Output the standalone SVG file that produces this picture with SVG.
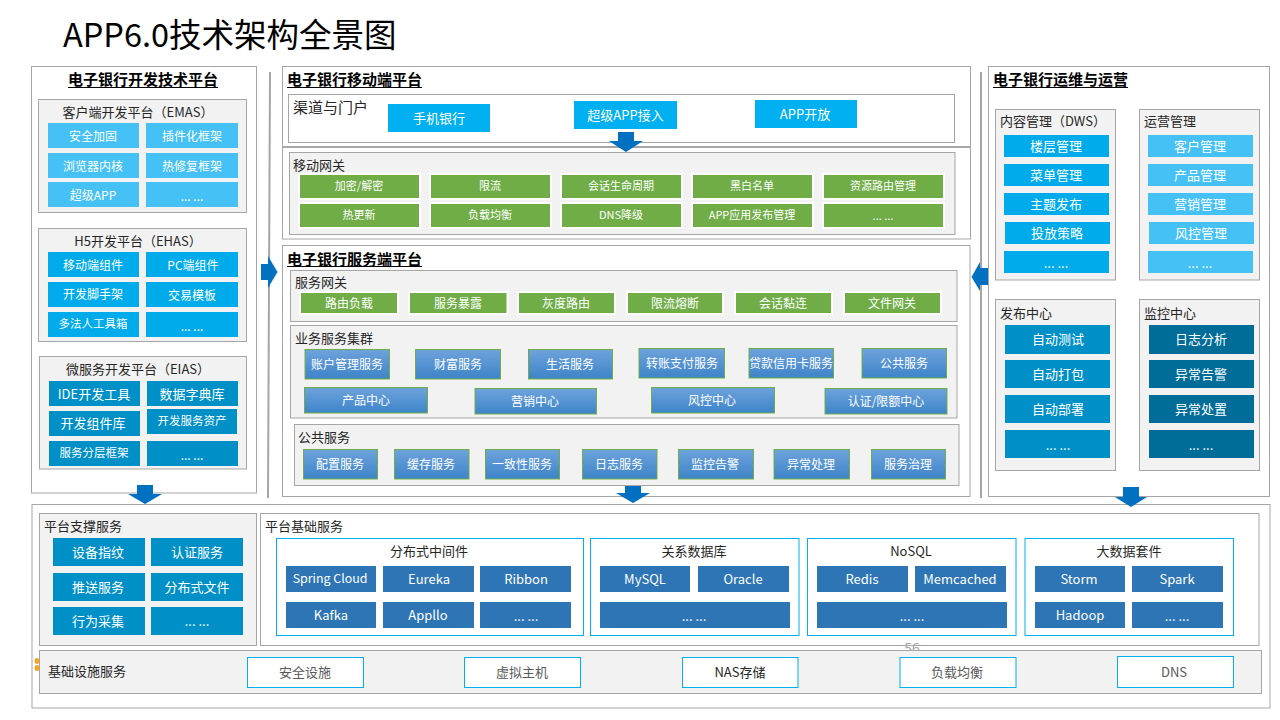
<svg xmlns="http://www.w3.org/2000/svg" width="1280" height="720" viewBox="0 0 1280 720">
<style>
text{font-family:"Noto Sans CJK SC","Noto Sans",sans-serif;font-size:13px;dominant-baseline:central;transform:translateY(-1px)}
.panel{fill:#fff;stroke:#a6a6a6;stroke-width:1}
.box{fill:#f2f2f2;stroke:#a6a6a6;stroke-width:1}
.wbox{fill:#fff;stroke:#a6a6a6;stroke-width:1}
.group{fill:#fff;stroke:#00b0f0;stroke-width:1}
.infra{fill:#fff;stroke:#00b0f0;stroke-width:1}
.title{font-size:15px;font-weight:700;fill:#000}
.ul{stroke:#000;stroke-width:1}
.lab{fill:#262626;font-size:13px}
.c{text-anchor:middle;fill:#fff}
.d{text-anchor:middle;fill:#262626}
.g{text-anchor:middle;fill:#595959}
.s11{font-size:11px}
.s12{font-size:12px}
.a{fill:#45c1f6}.b{fill:#00abec}.e{fill:#0090c8}.f{fill:#006c98}.h{fill:#00b0f0}
.gr{fill:#70ad47;stroke:#fff;stroke-width:4;paint-order:stroke fill}
.bl{fill:url(#blue);stroke:#70ad47;stroke-width:1}
.m{fill:#2e75b6}
.arrow{fill:#0070c0}
.rail{stroke:#a6a6a6;stroke-width:2;fill:none}
</style>
<defs>
<linearGradient id="blue" x1="0" y1="0" x2="0" y2="1"><stop offset="0" stop-color="#6ea3dc"/><stop offset="1" stop-color="#3d84c8"/></linearGradient>
</defs>
<rect width="1280" height="720" fill="#fff"/>
<text x="63" y="33.5" style="font-size:32.5px" fill="#000">APP6.0技术架构全景图</text>

<g id="bottom-platform">
<rect class="panel" x="32" y="504.5" width="1238" height="203.5"/>
<rect class="box" x="39.5" y="513.5" width="217" height="132"/>
<text class="lab" x="44" y="526">平台支撑服务</text>
<rect class="e" x="53" y="538" width="92" height="28"/><text class="c" x="98" y="552">设备指纹</text>
<rect class="e" x="151" y="538" width="92" height="28"/><text class="c" x="197" y="552">认证服务</text>
<rect class="e" x="53" y="573" width="92" height="28"/><text class="c" x="98" y="587">推送服务</text>
<rect class="e" x="151" y="573" width="92" height="28"/><text class="c" x="197" y="587">分布式文件</text>
<rect class="e" x="53" y="607" width="92" height="28"/><text class="c" x="98" y="621">行为采集</text>
<rect class="e" x="151" y="607" width="92" height="28"/><text class="c" x="197" y="621">... ...</text>
<rect class="wbox" x="260.5" y="513.5" width="998.5" height="132"/>
<text class="lab" x="265" y="526">平台基础服务</text>
</g>
<g id="middleware">
<rect class="group" x="276.5" y="538.5" width="307" height="97"/>
<text class="d" x="429" y="551">分布式中间件</text>
<rect class="m" x="286" y="566" width="90" height="26"/><text class="c" x="330" y="579" style="font-size:12.4px">Spring Cloud</text>
<rect class="m" x="383" y="566" width="91" height="26"/><text class="c" x="429" y="579">Eureka</text>
<rect class="m" x="480" y="566" width="91" height="26"/><text class="c" x="526" y="579">Ribbon</text>
<rect class="m" x="286" y="602" width="90" height="26"/><text class="c" x="331" y="615">Kafka</text>
<rect class="m" x="383" y="602" width="91" height="26"/><text class="c" x="428" y="615">Appllo</text>
<rect class="m" x="480" y="602" width="91" height="26"/><text class="c" x="526" y="616">... ...</text>
</g>
<g id="rdb">
<rect class="group" x="590.5" y="538.5" width="208.5" height="97"/>
<text class="d" x="694" y="551">关系数据库</text>
<rect class="m" x="600" y="566" width="90" height="26"/><text class="c" x="645" y="579">MySQL</text>
<rect class="m" x="698" y="566" width="91" height="26"/><text class="c" x="743" y="579">Oracle</text>
<rect class="m" x="600" y="602" width="190" height="26"/><text class="c" x="694" y="616">... ...</text>
</g>
<g id="nosql">
<rect class="group" x="807.5" y="538.5" width="208.5" height="97"/>
<text class="d" x="911" y="551">NoSQL</text>
<rect class="m" x="817" y="566" width="91" height="26"/><text class="c" x="862" y="579">Redis</text>
<rect class="m" x="915" y="566" width="91" height="26"/><text class="c" x="960" y="579">Memcached</text>
<rect class="m" x="817" y="602" width="190" height="26"/><text class="c" x="912" y="616">... ...</text>
</g>
<g id="bigdata">
<rect class="group" x="1025" y="538.5" width="208.5" height="97"/>
<text class="d" x="1129" y="551">大数据套件</text>
<rect class="m" x="1035" y="566" width="90" height="26"/><text class="c" x="1079" y="579">Storm</text>
<rect class="m" x="1132" y="566" width="91" height="26"/><text class="c" x="1177" y="579">Spark</text>
<rect class="m" x="1035" y="602" width="90" height="26"/><text class="c" x="1080" y="615">Hadoop</text>
<rect class="m" x="1132" y="602" width="91" height="26"/><text class="c" x="1177" y="616">... ...</text>
</g>
<text x="912" y="648" text-anchor="middle" style="font-size:14px;fill:#a6a6a6">56</text>
<g id="infrastructure">
<ellipse cx="37" cy="661" rx="2.5" ry="3" fill="#f5a623"/><ellipse cx="37" cy="668" rx="2.5" ry="3" fill="#f5a623"/>
<rect class="box" x="39.5" y="650.5" width="1222" height="43"/>
<text class="lab" x="48" y="671">基础设施服务</text>
<rect class="infra" x="247.5" y="657.5" width="116" height="30"/><text class="g" x="305" y="672">安全设施</text>
<rect class="infra" x="464.5" y="657.5" width="116" height="30"/><text class="g" x="522" y="672">虚拟主机</text>
<rect class="infra" x="682.5" y="657.5" width="115.5" height="30"/><text class="d" x="740" y="672">NAS存储</text>
<rect class="infra" x="900" y="657.5" width="116" height="30"/><text class="g" x="957" y="672">负载均衡</text>
<rect class="infra" x="1117.5" y="656.5" width="116" height="31"/><text class="g" x="1174" y="672">DNS</text>
</g>

<g id="dev-platform">
<rect class="panel" x="31.5" y="66.5" width="225" height="426.5"/>
<text class="title" x="68" y="79">电子银行开发技术平台</text><line class="ul" x1="68" y1="87.5" x2="218" y2="87.5"/>
</g>
<g id="emas">
<rect class="box" x="38.5" y="99.5" width="208" height="113"/>
<text class="d" x="138" y="112">客户端开发平台（EMAS）</text>
<rect class="a" x="48" y="123" width="91" height="25"/><text class="c s12" x="93" y="136">安全加固</text>
<rect class="a" x="146" y="123" width="92" height="25"/><text class="c s12" x="192" y="136">插件化框架</text>
<rect class="a" x="48" y="153" width="91" height="25"/><text class="c s12" x="93" y="166">浏览器内核</text>
<rect class="a" x="146" y="153" width="92" height="25"/><text class="c s12" x="192" y="166">热修复框架</text>
<rect class="a" x="48" y="182" width="91" height="25"/><text class="c s12" x="93" y="195">超级APP</text>
<rect class="a" x="146" y="182" width="92" height="25"/><text class="c s12" x="192" y="196">... ...</text>
</g>
<g id="ehas">
<rect class="box" x="38.5" y="228.5" width="208" height="113"/>
<text class="d" x="138" y="241">H5开发平台（EHAS）</text>
<rect class="b" x="48" y="252" width="91" height="25"/><text class="c s12" x="93" y="265">移动端组件</text>
<rect class="b" x="146" y="252" width="92" height="25"/><text class="c s12" x="193" y="265">PC端组件</text>
<rect class="b" x="48" y="282" width="91" height="25"/><text class="c s12" x="93" y="294">开发脚手架</text>
<rect class="b" x="146" y="282" width="92" height="25"/><text class="c s12" x="192" y="295">交易模板</text>
<rect class="b" x="48" y="312" width="91" height="25"/><text class="c" x="93" y="324" style="font-size:11.5px">多法人工具箱</text>
<rect class="b" x="146" y="312" width="92" height="25"/><text class="c s12" x="192" y="326">... ...</text>
</g>
<g id="eias">
<rect class="box" x="39.5" y="356.5" width="207" height="112.5"/>
<text class="d" x="138" y="369">微服务开发平台（EIAS）</text>
<rect class="e" x="49" y="381" width="91" height="25"/><text class="c" x="94" y="394">IDE开发工具</text>
<rect class="e" x="147" y="381" width="91" height="25"/><text class="c" x="192" y="394">数据字典库</text>
<rect class="e" x="49" y="411" width="91" height="25"/><text class="c" x="93" y="423">开发组件库</text>
<rect class="e" x="147" y="409" width="90" height="25"/><text class="c" x="192" y="421" style="font-size:11.5px">开发服务资产</text>
<rect class="e" x="49" y="441" width="91" height="25"/><text class="c" x="94" y="453" style="font-size:11.5px">服务分层框架</text>
<rect class="e" x="147" y="441" width="91" height="25"/><text class="c s12" x="192" y="455">... ...</text>
</g>

<g id="mobile-platform">
<rect class="panel" x="282.5" y="66.5" width="688" height="172.5"/>
<text class="title" x="287" y="79">电子银行移动端平台</text><line class="ul" x1="287" y1="87.5" x2="422" y2="87.5"/>
<line x1="282" y1="147" x2="970" y2="147" stroke="#a6a6a6" stroke-width="2"/>
</g>
<g id="channels">
<rect class="wbox" x="288.5" y="94.5" width="666" height="48"/>
<text class="lab" x="293" y="107" style="font-size:15px">渠道与门户</text>
<rect class="h" x="388" y="104" width="102" height="28"/><text class="c" x="439" y="118">手机银行</text>
<rect class="h" x="574" y="101" width="103" height="28"/><text class="c" x="625.5" y="115">超级APP接入</text>
<rect class="h" x="755" y="100" width="102" height="28"/><text class="c" x="805" y="114">APP开放</text>
</g>
<g id="mobile-gateway">
<rect class="box" x="289.5" y="152.5" width="665.5" height="82"/>
<text class="lab" x="293" y="165">移动网关</text>
<rect class="gr" x="300" y="175" width="119" height="23"/><text class="c s11" x="359" y="186">加密/解密</text>
<rect class="gr" x="431" y="175" width="119" height="23"/><text class="c s11" x="490" y="186">限流</text>
<rect class="gr" x="562" y="175" width="119" height="23"/><text class="c s11" x="621" y="186">会话生命周期</text>
<rect class="gr" x="693" y="175" width="119" height="23"/><text class="c s11" x="752" y="186">黑白名单</text>
<rect class="gr" x="824" y="175" width="119" height="23"/><text class="c s11" x="883" y="186">资源路由管理</text>
<rect class="gr" x="300" y="204" width="119" height="23"/><text class="c s11" x="359" y="215">热更新</text>
<rect class="gr" x="431" y="204" width="119" height="23"/><text class="c s11" x="490" y="215">负载均衡</text>
<rect class="gr" x="562" y="204" width="119" height="23"/><text class="c s11" x="621" y="215">DNS降级</text>
<rect class="gr" x="693" y="204" width="119" height="23"/><text class="c s11" x="752" y="215">APP应用发布管理</text>
<rect class="gr" x="824" y="204" width="119" height="23"/><text class="c s11" x="883" y="216">... ...</text>
</g>

<g id="server-platform">
<rect class="panel" x="282.5" y="245.5" width="687.5" height="251"/>
<text class="title" x="287" y="259">电子银行服务端平台</text><line class="ul" x1="287" y1="266.5" x2="422" y2="266.5"/>
</g>
<g id="service-gateway">
<rect class="box" x="290.5" y="270.5" width="666.5" height="51"/>
<text class="lab" x="295" y="282.5">服务网关</text>
<rect class="gr" x="301" y="293" width="96" height="20"/><text class="c s12" x="349" y="303">路由负载</text>
<rect class="gr" x="410" y="293" width="96.5" height="20"/><text class="c s12" x="458" y="303">服务暴露</text>
<rect class="gr" x="519" y="293" width="95" height="20"/><text class="c s12" x="566" y="303">灰度路由</text>
<rect class="gr" x="628" y="293" width="94" height="20"/><text class="c s12" x="675" y="303">限流熔断</text>
<rect class="gr" x="736" y="293" width="95" height="20"/><text class="c s12" x="783" y="303">会话黏连</text>
<rect class="gr" x="845" y="293" width="95" height="20"/><text class="c s12" x="892" y="303">文件网关</text>
</g>
<g id="business-cluster">
<rect class="box" x="290.5" y="325.5" width="666.5" height="92.5"/>
<text class="lab" x="295" y="338">业务服务集群</text>
<rect class="bl" x="305" y="349.5" width="84.5" height="29.5"/><text class="c s12" x="347" y="364">账户管理服务</text>
<rect class="bl" x="415.5" y="349.5" width="85" height="29.5"/><text class="c s12" x="458" y="364">财富服务</text>
<rect class="bl" x="528.5" y="349.5" width="84" height="29.5"/><text class="c s12" x="570" y="364">生活服务</text>
<rect class="bl" x="639" y="348.5" width="85.5" height="29.5"/><text class="c s12" x="682" y="363">转账支付服务</text>
<rect class="bl" x="749" y="348.5" width="84.5" height="29.5"/><text class="c s12" x="791" y="363">贷款信用卡服务</text>
<rect class="bl" x="862" y="348.5" width="84.5" height="29.5"/><text class="c s12" x="904" y="363">公共服务</text>
<rect class="bl" x="304.5" y="387.5" width="123" height="25.5"/><text class="c s12" x="366" y="400">产品中心</text>
<rect class="bl" x="475" y="388.5" width="121.5" height="25.5"/><text class="c s12" x="535" y="401">营销中心</text>
<rect class="bl" x="651.5" y="387.5" width="123" height="25.5"/><text class="c s12" x="712" y="400">风控中心</text>
<rect class="bl" x="825" y="388.5" width="122" height="25.5"/><text class="c s12" x="886" y="401">认证/限额中心</text>
</g>
<g id="common-services">
<rect class="box" x="294.5" y="424.5" width="664.5" height="61"/>
<text class="lab" x="298" y="437">公共服务</text>
<rect class="bl" x="303.5" y="449.5" width="74" height="29.5"/><text class="c s12" x="340" y="464">配置服务</text>
<rect class="bl" x="394.5" y="449.5" width="74.5" height="29.5"/><text class="c s12" x="431" y="464">缓存服务</text>
<rect class="bl" x="485.5" y="449.5" width="74" height="29.5"/><text class="c s12" x="522" y="464">一致性服务</text>
<rect class="bl" x="582.5" y="449.5" width="74.5" height="29.5"/><text class="c s12" x="619" y="464">日志服务</text>
<rect class="bl" x="678.5" y="449.5" width="75" height="29.5"/><text class="c s12" x="715" y="464">监控告警</text>
<rect class="bl" x="774" y="449.5" width="75.5" height="29.5"/><text class="c s12" x="811" y="464">异常处理</text>
<rect class="bl" x="871.5" y="449.5" width="74" height="29.5"/><text class="c s12" x="908" y="464">服务治理</text>
</g>

<g id="ops-platform">
<rect class="panel" x="988.5" y="66.5" width="281" height="430"/>
<text class="title" x="993" y="79">电子银行运维与运营</text><line class="ul" x1="993" y1="87.5" x2="1128" y2="87.5"/>
</g>
<g id="dws">
<rect class="box" x="995.5" y="109.5" width="120" height="170.5"/>
<text class="lab" x="1000" y="121">内容管理（DWS）</text>
<rect class="b" x="1004" y="135" width="105" height="22"/><text class="c" x="1056" y="146">楼层管理</text>
<rect class="b" x="1004" y="164" width="105" height="22"/><text class="c" x="1056" y="175">菜单管理</text>
<rect class="b" x="1004" y="193" width="105" height="22"/><text class="c" x="1056" y="204">主题发布</text>
<rect class="b" x="1005" y="222" width="105" height="22"/><text class="c" x="1057" y="233">投放策略</text>
<rect class="b" x="1004" y="251" width="105" height="22"/><text class="c" x="1056" y="263">... ...</text>
</g>
<g id="operations">
<rect class="box" x="1139.5" y="109.5" width="120" height="170.5"/>
<text class="lab" x="1144" y="121">运营管理</text>
<rect class="a" x="1148" y="135" width="105" height="22"/><text class="c" x="1200" y="146">客户管理</text>
<rect class="a" x="1148" y="164" width="105" height="22"/><text class="c" x="1200" y="175">产品管理</text>
<rect class="a" x="1148" y="193" width="105" height="22"/><text class="c" x="1200" y="204">营销管理</text>
<rect class="a" x="1149" y="222" width="105" height="22"/><text class="c" x="1201" y="233">风控管理</text>
<rect class="a" x="1148" y="251" width="105" height="22"/><text class="c" x="1200" y="263">... ...</text>
</g>
<g id="release">
<rect class="box" x="995.5" y="299.5" width="120" height="171"/>
<text class="lab" x="1000" y="313">发布中心</text>
<rect class="e" x="1005" y="325" width="105" height="29"/><text class="c" x="1058" y="339">自动测试</text>
<rect class="e" x="1005" y="360" width="105" height="28"/><text class="c" x="1058" y="374">自动打包</text>
<rect class="e" x="1005" y="395" width="105" height="28"/><text class="c" x="1058" y="409">自动部署</text>
<rect class="e" x="1005" y="430" width="105" height="28"/><text class="c" x="1058" y="445">... ...</text>
</g>
<g id="monitoring">
<rect class="box" x="1139.5" y="299.5" width="120" height="171"/>
<text class="lab" x="1144" y="313">监控中心</text>
<rect class="f" x="1149" y="325" width="105" height="29"/><text class="c" x="1201" y="339">日志分析</text>
<rect class="f" x="1149" y="360" width="105" height="28"/><text class="c" x="1201" y="374">异常告警</text>
<rect class="f" x="1149" y="395" width="105" height="28"/><text class="c" x="1201" y="409">异常处置</text>
<rect class="f" x="1149" y="430" width="105" height="28"/><text class="c" x="1201" y="445">... ...</text>
</g>

<g id="connectors">
<line class="rail" x1="270" y1="72" x2="268" y2="498"/>
<line class="rail" x1="981" y1="72" x2="981" y2="498"/>
<polygon class="arrow" points="971.5,277 980,262 980,268 988,268 988,285 980,285 980,291"/>
<polygon class="arrow" points="261,264 268,264 268,256 277.5,272 268,288 268,280 261,280"/>
<polygon class="arrow" points="618,132 634,132 634,141 643,141 626,152 609,141 618,141"/>
<polygon class="arrow" points="625,486 641,486 641,493 650,493 633,503 616,493 625,493"/>
<polygon class="arrow" points="137,485 153,485 153,494 162,494 145,504 128,494 137,494"/>
<polygon class="arrow" points="1123,487 1139,487 1139,497 1147,497 1131,507 1115,497 1123,497"/>
</g>
</svg>
